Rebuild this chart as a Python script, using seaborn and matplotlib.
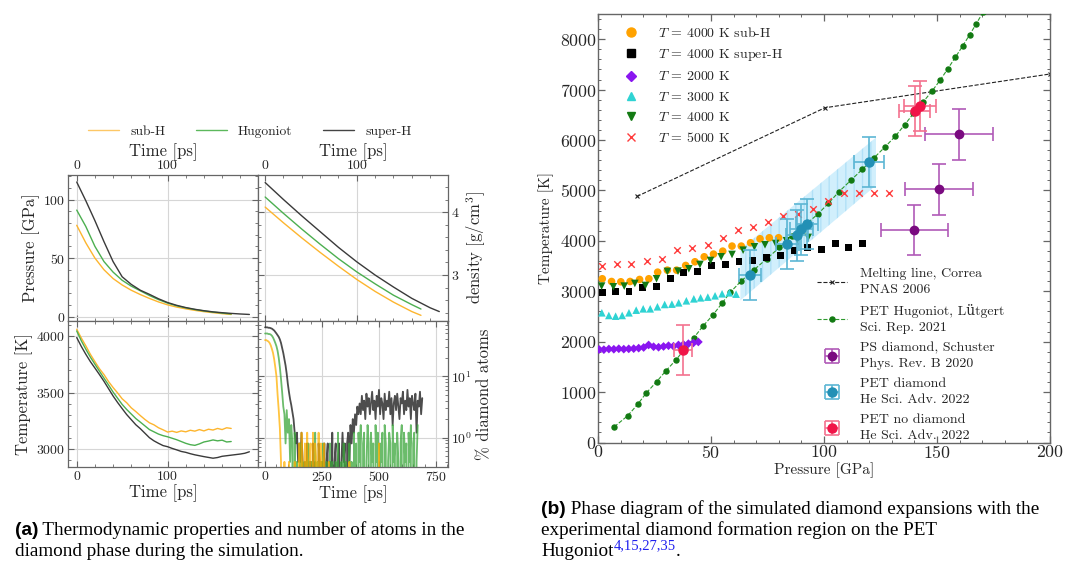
import numpy as np
import seaborn as sns
import matplotlib.pyplot as plt
from matplotlib.lines import Line2D
from matplotlib.ticker import MultipleLocator, AutoMinorLocator, LogLocator, NullFormatter

# ---------------- panel (a): simulation traces ----------------
# pressure [GPa] vs time [ps]
press_t_long = [0, 10, 20, 30, 40, 50, 60, 70, 80, 90, 100, 110, 120, 130, 140, 150, 160, 170, 180, 190]
press_t_short = [0, 10, 20, 30, 40, 50, 60, 70, 80, 90, 100, 110, 120, 130, 140, 150, 160, 170]
press_super = [115, 99, 82, 64, 47, 34, 27.5, 22.5, 19, 15.2, 12, 9.6, 7.7, 6.2, 5.0, 4.0, 3.3, 2.7, 2.2, 1.8]
press_hug = [91, 77, 60, 47, 38, 31, 26, 22, 18, 14.5, 11.5, 9.2, 7.4, 6.0, 4.8, 3.8, 3.0, 2.2]
press_sub = [78, 63, 50, 40, 32.5, 27, 22.5, 18.8, 15.5, 12.5, 10, 8.1, 6.6, 5.3, 4.2, 3.3, 2.5, 1.8]

# density [g/cm3] vs time [ps]
dens_t_long = [0, 20, 40, 60, 80, 100, 120, 140, 160, 180, 190]
dens_t_short = [0, 20, 40, 60, 80, 100, 120, 140, 160, 170]
dens_super = [4.47, 4.20, 3.94, 3.69, 3.44, 3.21, 3.00, 2.81, 2.63, 2.48, 2.42]
dens_hug = [4.24, 3.98, 3.73, 3.49, 3.26, 3.05, 2.86, 2.68, 2.53, 2.46]
dens_sub = [4.08, 3.83, 3.59, 3.36, 3.14, 2.93, 2.74, 2.57, 2.42, 2.36]

# temperature [K], sampled every 5 ps
temp_step = 5
temp_sub = [4062, 3985, 3915, 3840, 3775, 3712, 3660, 3598, 3545, 3497, 3445, 3410, 3365, 3332,
            3296, 3262, 3232, 3214, 3188, 3170, 3150, 3158, 3147, 3160, 3152, 3166, 3158, 3172,
            3160, 3175, 3168, 3182, 3172, 3188, 3182]
temp_hug = [4047, 3960, 3885, 3815, 3752, 3690, 3628, 3568, 3505, 3450, 3395, 3350, 3310, 3270,
            3238, 3205, 3172, 3152, 3132, 3118, 3108, 3095, 3082, 3066, 3050, 3038, 3032, 3045,
            3062, 3070, 3080, 3072, 3078, 3062, 3066]
temp_super = [3988, 3910, 3840, 3775, 3718, 3660, 3600, 3535, 3470, 3412, 3358, 3305, 3260, 3215,
              3180, 3140, 3100, 3072, 3050, 3030, 3020, 3005, 2992, 2978, 2970, 2958, 2948, 2940,
              2932, 2925, 2918, 2924, 2935, 2940, 2945, 2950, 2955, 2962, 2975]

# percentage of diamond atoms, sampled every 5 ps
frac_step = 5
frac_super = [63, 63, 63, 62, 62, 61, 60, 58, 56,
              53, 50, 47, 44, 40, 35, 29, 24, 19, 15, 11, 7.5, 5.5, 4.2, 3.4, 2.6, 2.0,
              1.2, 0.8, 1.2, 0.4, 0.8, 0.4, 1.2, 0.4, 0,
              0.4, 0, 0.8, 0, 0.4, 0.4, 0, 0.8, 0, 0.4, 0, 0, 0.8, 0.4, 0, 0.4, 0, 0.8, 0,
              0.4, 0.8, 0, 0.4, 0, 1.2, 0, 0.4, 0.8, 0, 0.4, 0.8, 0, 0.4, 1.2, 0.4, 0.8, 0,
              0.8, 1.2, 0.4, 1.6, 0.8, 2.0, 1.2, 2.4, 1.6, 3.2, 2.4,
              3.6, 2.4, 4.8, 2.8, 4.0, 2.0, 5.2, 3.2, 4.4, 2.4, 3.6, 5.6, 2.8, 4.0, 2.0, 4.8,
              3.2, 6.0, 2.4, 4.4, 3.6, 2.0, 5.2, 2.8, 4.0, 3.2, 5.6, 2.4, 4.4, 1.6, 3.6, 4.8,
              2.8, 5.2, 3.2, 2.0, 4.4, 3.6, 5.6, 2.4, 4.0, 2.8, 6.0, 3.2, 4.4, 2.0, 4.8, 3.6,
              2.8, 5.2, 1.2, 4.0, 3.2, 5.6, 2.4, 4.4]
frac_hug = [50, 50, 50, 49, 49, 48, 46, 43, 39, 35, 31, 26, 20, 14, 9, 5.5, 3.2,
            2.4, 0.8, 2.8, 1.2, 2.0, 0.4, 1.6, 0.8, 0, 1.2,
            0, 0.4, 0, 0, 0.8, 0, 0.4, 0, 0, 0.4, 0, 0.8, 0, 0, 0.4, 0, 0, 1.2, 0, 0.4,
            0, 0, 0.4, 0, 0.8, 0, 0, 0.4, 0, 0, 0.8, 0, 0.4, 0, 0, 0.4, 0, 1.2, 0, 0,
            0.4, 0, 0.8, 0, 0.4, 0, 0, 0.8, 0, 0.4, 0, 1.2, 0,
            0.8, 0, 1.2, 0.4, 1.6, 0, 0.8, 1.2, 0, 0.4, 1.6, 0.8, 0, 1.2, 0.4, 0.8, 0, 1.6,
            0.4, 1.2, 0, 0.8, 0.4, 1.2, 0, 1.6, 0.8, 0, 0.4, 1.2, 0.8, 0, 1.6, 0.4, 0.8, 0,
            1.2, 0.4, 0, 0.8, 1.6, 0, 1.2, 0.4, 0.8, 0, 1.2, 0.4, 1.6, 0, 0.8, 1.2, 0, 0.4, 1.6]
frac_sub = [39, 39, 38, 37, 35, 32, 28, 24, 19, 14, 10, 5.0, 2.8, 1.4, 0.4, 0,
            0, 0.4, 0, 0, 0, 0.4, 0, 0, 0, 0, 0.4, 0, 0, 0,
            0.8, 0, 1.2, 0.4, 0, 0.8, 0, 1.2, 0, 0.4, 0.8, 0, 1.2, 0, 0.8, 0.4, 0, 1.2, 0,
            0.8, 0, 0.4, 0.8, 0,
            0, 0, 0.4, 0, 0, 0, 0, 0, 0, 0, 0, 0, 0, 0, 0, 0, 0, 0, 0, 0, 0.4, 0, 0, 0, 0,
            0, 0, 0, 0, 0, 0, 0, 0, 0, 0, 0, 0, 0, 0, 0, 0, 0, 0, 0, 0, 0, 0.8, 0, 0, 0]

# ---------------- panel (b): phase diagram ----------------
sub_p = [1.9, 6.0, 10.1, 14.2, 18.4, 22.5, 26.4, 30.7, 34.8, 38.8, 42.9, 47.0, 51.1, 55.2,
         59.3, 63.4, 67.5, 71.7, 75.8, 79.9]
sub_t = [3248, 3194, 3188, 3194, 3234, 3248, 3379, 3419, 3419, 3512, 3585, 3684, 3737, 3796,
         3896, 3896, 3962, 4041, 4061, 4061]
super_p = [1.9, 7.8, 13.7, 19.8, 25.9, 32.0, 38.0, 44.2, 50.2, 56.3, 62.4, 68.4, 74.6, 80.6,
           86.7, 92.8, 98.8, 105.0, 111.0, 117.0]
super_t = [2970, 3002, 3002, 3069, 3089, 3260, 3366, 3399, 3506, 3525, 3591, 3617, 3677, 3704,
           3815, 3862, 3823, 3948, 3875, 3955]
t2000_p = [0.5, 2.6, 4.8, 7.0, 9.2, 11.4, 13.6, 15.8, 18.0, 20.2, 22.4, 24.6, 26.8, 29.0,
           31.2, 33.4, 35.6, 37.8, 40.0, 42.2, 44.4]
t2000_t = [1845, 1842, 1855, 1850, 1860, 1852, 1858, 1862, 1872, 1885, 1935, 1900, 1890, 1905,
           1920, 1910, 1935, 1945, 1960, 1975, 1995]
t3000_p = [1.7, 4.8, 7.8, 10.7, 13.7, 16.9, 20.0, 23.1, 26.3, 29.5, 32.7, 35.7, 39.1, 42.4,
           45.4, 48.6, 51.8, 54.9, 58.1, 61.1]
t3000_t = [2573, 2520, 2506, 2520, 2573, 2625, 2652, 2652, 2692, 2738, 2745, 2771, 2811, 2850,
           2870, 2884, 2910, 2950, 2970, 2943]
t4000_p = [1.6, 6.8, 11.6, 16.3, 21.0, 25.9, 30.7, 35.4, 40.2, 45.1, 49.8, 54.5, 59.3, 64.2,
           69.2, 73.9, 78.6, 83.4, 88.2, 93.0]
t4000_t = [3102, 3089, 3102, 3155, 3115, 3248, 3393, 3399, 3446, 3532, 3611, 3684, 3730, 3815,
           3882, 3922, 3948, 4002, 4028, 4068]
t5000_p = [1.9, 8.2, 14.8, 21.7, 28.3, 35.1, 41.7, 48.6, 55.2, 61.8, 68.6, 75.2, 81.9, 88.5,
           95.3, 101.9, 108.7, 115.4, 122.0, 128.6]
t5000_t = [3498, 3532, 3545, 3598, 3631, 3809, 3855, 3922, 4061, 4213, 4272, 4371, 4490, 4537,
           4623, 4788, 4954, 4940, 4954, 4954]

melt_p = [17.2, 100.4, 200]
melt_t = [4880, 6640, 7310]

hug_p = [7.2, 13.1, 17.5, 21.3, 25.9, 29.9, 34.4, 38.4, 42.4, 46.4, 50.8, 54.8, 58.6, 63.3,
         69.0, 74.7, 80.3, 86.0, 91.7, 97.4, 101.9, 106.6, 111.8, 116.9, 122.0, 126.9, 131.6,
         135.7, 139.6, 143.8, 147.7, 151.4, 154.8, 158.1, 161.3, 164.4, 167.4, 170.3]
hug_t = [311, 529, 754, 979, 1204, 1415, 1633, 1855, 2077, 2307, 2526, 2758, 2983, 3201,
         3424, 3646, 3869, 4092, 4314, 4537, 4742, 4974, 5198, 5416, 5641, 5859, 6077,
         6303, 6527, 6752, 6964, 7188, 7414, 7640, 7862, 8085, 8308, 8530]

ps_p = [140.0, 151.0, 159.9]
ps_t = [4213, 5020, 6111]
ps_perr = [15, 15, 15]
ps_terr = [500, 500, 500]

petd_p = [67.4, 83.8, 88.0, 90.0, 92.4, 119.8]
petd_t = [3320, 3942, 4107, 4226, 4340, 5561]
petd_perr = [4.8, 5, 5, 5, 5, 6.6]
petd_terr = [500, 500, 500, 500, 500, 500]
band_p = [63, 123]
band_lo = [2820, 5100]
band_hi = [3830, 6050]

petn_p = [37.5, 140.1, 142.6]
petn_t = [1832, 6574, 6673]
petn_perr = [3.9, 7, 7]
petn_terr = [500, 500, 500]

# ---------------- style ----------------
sns.set_theme(style='ticks')
plt.rcParams['font.family'] = ['cmr10', 'DejaVu Serif']
plt.rcParams['mathtext.fontset'] = 'cm'
plt.rcParams['axes.formatter.use_mathtext'] = True
plt.rcParams['axes.unicode_minus'] = False

W, H = 1067, 562
fig = plt.figure(figsize=(W / 100, H / 100), dpi=100)
fig.patch.set_facecolor('white')


def px_axes(l, t, r, b):
    return fig.add_axes([l / W, 1 - b / H, (r - l) / W, (b - t) / H])


sub_c, hug_c, sup_c = '#fdb52e', '#4caf50', '#3a3a3a'
spine_c = '#666666'


def style_small(ax):
    for s in ax.spines.values():
        s.set_color(spine_c)
        s.set_linewidth(0.9)
    ax.tick_params(which='both', direction='in', top=True, right=True, color=spine_c,
                   labelsize=10, pad=2)
    ax.tick_params(which='major', length=4, width=0.8)
    ax.tick_params(which='minor', length=2, width=0.6)
    ax.grid(True, which='major', color='#d6d6d6', lw=0.8)
    ax.set_axisbelow(True)


ax_p = px_axes(68, 175, 258, 321)
ax_d = px_axes(258, 175, 448, 321)
ax_T = px_axes(68, 321, 258, 467)
ax_n = px_axes(258, 321, 448, 467)

# pressure
sns.lineplot(x=press_t_short, y=press_sub, ax=ax_p, color=sub_c, lw=1, estimator=None, sort=False)
sns.lineplot(x=press_t_short, y=press_hug, ax=ax_p, color=hug_c, lw=1, estimator=None, sort=False)
sns.lineplot(x=press_t_long, y=press_super, ax=ax_p, color=sup_c, lw=1, estimator=None, sort=False)
ax_p.set_xlim(-9.6, 199.5)
ax_p.set_ylim(-3.8, 121)
ax_p.xaxis.set_major_locator(MultipleLocator(100))
ax_p.yaxis.set_major_locator(MultipleLocator(50))
ax_p.xaxis.set_minor_locator(AutoMinorLocator(5))
ax_p.yaxis.set_minor_locator(AutoMinorLocator(5))
style_small(ax_p)
ax_p.tick_params(labelbottom=False, labeltop=True)
ax_p.xaxis.set_label_position('top')
ax_p.set_xlabel('Time [ps]', fontsize=12, labelpad=2.5)
ax_p.set_ylabel('Pressure [GPa]', fontsize=12, labelpad=2)

# density
sns.lineplot(x=dens_t_short, y=dens_sub, ax=ax_d, color=sub_c, lw=1, estimator=None, sort=False)
sns.lineplot(x=dens_t_short, y=dens_hug, ax=ax_d, color=hug_c, lw=1, estimator=None, sort=False)
sns.lineplot(x=dens_t_long, y=dens_super, ax=ax_d, color=sup_c, lw=1, estimator=None, sort=False)
ax_d.set_xlim(-7.8, 199.5)
ax_d.set_ylim(2.27, 4.59)
ax_d.xaxis.set_major_locator(MultipleLocator(100))
ax_d.yaxis.set_major_locator(MultipleLocator(1))
ax_d.xaxis.set_minor_locator(AutoMinorLocator(5))
ax_d.yaxis.set_minor_locator(AutoMinorLocator(5))
style_small(ax_d)
ax_d.tick_params(labelbottom=False, labeltop=True, labelleft=False, labelright=True)
ax_d.xaxis.set_label_position('top')
ax_d.yaxis.set_label_position('right')
ax_d.set_xlabel('Time [ps]', fontsize=12, labelpad=2.5)
ax_d.set_ylabel('density [g/cm$^3$]', fontsize=12, labelpad=4)

# temperature
sns.lineplot(x=np.arange(len(temp_sub)) * temp_step, y=temp_sub, ax=ax_T, color=sub_c, lw=1,
             estimator=None, sort=False)
sns.lineplot(x=np.arange(len(temp_hug)) * temp_step, y=temp_hug, ax=ax_T, color=hug_c, lw=1,
             estimator=None, sort=False)
sns.lineplot(x=np.arange(len(temp_super)) * temp_step, y=temp_super, ax=ax_T, color=sup_c, lw=1,
             estimator=None, sort=False)
ax_T.set_xlim(-9.6, 199.5)
ax_T.set_ylim(2840, 4135)
ax_T.xaxis.set_major_locator(MultipleLocator(100))
ax_T.yaxis.set_major_locator(MultipleLocator(500))
ax_T.xaxis.set_minor_locator(AutoMinorLocator(5))
ax_T.yaxis.set_minor_locator(AutoMinorLocator(5))
style_small(ax_T)
ax_T.set_xlabel('Time [ps]', fontsize=12, labelpad=1)
ax_T.set_ylabel('Temperature [K]', fontsize=12, labelpad=2)

# diamond fraction
sns.lineplot(x=np.arange(len(frac_super)) * frac_step, y=frac_super, ax=ax_n, color='#2e2e2e',
             lw=1.3, alpha=0.85, estimator=None, sort=False)
sns.lineplot(x=np.arange(len(frac_hug)) * frac_step, y=frac_hug, ax=ax_n, color='#3aa63a',
             lw=1.3, alpha=0.75, estimator=None, sort=False)
sns.lineplot(x=np.arange(len(frac_sub)) * frac_step, y=frac_sub, ax=ax_n, color='#ffb000',
             lw=1.3, alpha=0.75, estimator=None, sort=False)
ax_n.set_yscale('log')
ax_n.set_xlim(-31, 803)
ax_n.set_ylim(0.33, 80)
ax_n.xaxis.set_major_locator(MultipleLocator(250))
ax_n.xaxis.set_minor_locator(AutoMinorLocator(5))
ax_n.yaxis.set_major_locator(LogLocator(base=10, numticks=5))
ax_n.yaxis.set_minor_locator(LogLocator(base=10, subs=np.arange(2, 10) * 1.0, numticks=20))
ax_n.yaxis.set_minor_formatter(NullFormatter())
style_small(ax_n)
ax_n.tick_params(labelleft=False, labelright=True)
ax_n.yaxis.set_label_position('right')
ax_n.set_xlabel('Time [ps]', fontsize=12, labelpad=1)
ax_n.set_ylabel('% diamond atoms', fontsize=12, labelpad=4)

top_handles = [Line2D([], [], color='#fdc766', lw=1),
               Line2D([], [], color='#5cb85c', lw=1),
               Line2D([], [], color='#444444', lw=1)]
fig.legend(top_handles, ['sub-H', 'Hugoniot', 'super-H'], loc='center',
           bbox_to_anchor=(250 / W, 1 - 131.5 / H), ncol=3, frameon=False, fontsize=9.7,
           handlelength=2.3, columnspacing=2.3, handletextpad=0.8)

# ---------------- phase diagram ----------------
ax_r = px_axes(598, 14, 1050, 442.5)
ax_r.fill_between(band_p, band_lo, band_hi, facecolor='#c6ebfc', edgecolor='#a9ddf6',
                  lw=0, alpha=0.8, hatch='||', zorder=1)
ax_r.plot(melt_p, melt_t, color='#222222', ls='--', lw=0.8, marker='x', ms=3, mew=0.8, zorder=2)
ax_r.plot(hug_p, hug_t, color='#2e9a2e', ls='--', lw=0.8, marker='o', ms=3.6,
          mfc='#127a12', mec='#127a12', zorder=3)

sns.scatterplot(x=sub_p, y=sub_t, ax=ax_r, marker='o', s=30, color='#ffa200', edgecolor='none', zorder=4)
sns.scatterplot(x=super_p, y=super_t, ax=ax_r, marker='s', s=24, color='black', edgecolor='none', zorder=4)
sns.scatterplot(x=t2000_p, y=t2000_t, ax=ax_r, marker='D', s=20, color='#8a16f0', edgecolor='none', zorder=4)
sns.scatterplot(x=t3000_p, y=t3000_t, ax=ax_r, marker='^', s=30, color='#2fd3d3', edgecolor='none', zorder=4)
sns.scatterplot(x=t4000_p, y=t4000_t, ax=ax_r, marker='v', s=30, color='#137a13', edgecolor='none', zorder=4)
sns.scatterplot(x=t5000_p, y=t5000_t, ax=ax_r, marker='x', s=22, color='#ff3b3b', linewidth=1, zorder=4)

eb_ps = ax_r.errorbar(ps_p, ps_t, xerr=ps_perr, yerr=ps_terr, fmt='o', ms=6, color='#7a0a80',
                      ecolor='#b05ab8', elinewidth=1.2, capsize=5, capthick=1.2, zorder=5)
eb_pd = ax_r.errorbar(petd_p, petd_t, xerr=petd_perr, yerr=petd_terr, fmt='o', ms=6.5,
                      color='#2390b5', ecolor='#5cb6d4', elinewidth=1.2, capsize=5, capthick=1.2, zorder=5)
eb_pn = ax_r.errorbar(petn_p, petn_t, xerr=petn_perr, yerr=petn_terr, fmt='o', ms=6.5,
                      color='#f01448', ecolor='#f3728f', elinewidth=1.2, capsize=5, capthick=1.2, zorder=5)

ax_r.set_xlim(0, 200)
ax_r.set_ylim(0, 8500)
ax_r.xaxis.set_major_locator(MultipleLocator(50))
ax_r.xaxis.set_minor_locator(MultipleLocator(10))
ax_r.yaxis.set_major_locator(MultipleLocator(1000))
ax_r.yaxis.set_minor_locator(MultipleLocator(200))
for s in ax_r.spines.values():
    s.set_color(spine_c)
    s.set_linewidth(1)
ax_r.tick_params(which='both', direction='in', top=True, right=True, color=spine_c,
                 labelsize=12.8, pad=1)
ax_r.tick_params(which='major', length=5, width=0.9)
ax_r.tick_params(which='minor', length=2.5, width=0.7)
ax_r.set_xlabel('Pressure [GPa]', fontsize=11, labelpad=1)
ax_r.set_ylabel('Temperature [K]', fontsize=11, labelpad=4)

leg1_handles = [
    Line2D([], [], ls='none', marker='o', ms=6.5, color='#ffa200'),
    Line2D([], [], ls='none', marker='s', ms=5.5, color='black'),
    Line2D([], [], ls='none', marker='D', ms=5.5, color='#8a16f0'),
    Line2D([], [], ls='none', marker='^', ms=6, color='#2fd3d3'),
    Line2D([], [], ls='none', marker='v', ms=6, color='#137a13'),
    Line2D([], [], ls='none', marker='x', ms=6, mew=1, color='#ff3b3b'),
]
leg1_labels = [r'$T$ = 4000 K sub-H', r'$T$ = 4000 K super-H', r'$T$ = 2000 K',
               r'$T$ = 3000 K', r'$T$ = 4000 K', r'$T$ = 5000 K']
leg1 = ax_r.legend(leg1_handles, leg1_labels, loc='upper left', bbox_to_anchor=(0.025, 0.985),
                   borderaxespad=0, borderpad=0.4, frameon=False, fontsize=10,
                   handlelength=2.3, handletextpad=0.8, labelspacing=0.52)

leg2_handles = [
    Line2D([], [], color='#222222', ls='--', lw=0.8, marker='x', ms=3, mew=0.8),
    Line2D([], [], color='#2e9a2e', ls='--', lw=0.8, marker='o', ms=3.6, mfc='#127a12', mec='#127a12'),
    eb_ps, eb_pd, eb_pn,
]
leg2_labels = ['Melting line, Correa\nPNAS 2006',
               'PET Hugoniot, Lütgert\nSci. Rep. 2021',
               'PS diamond, Schuster\nPhys. Rev. B 2020',
               'PET diamond\nHe Sci. Adv. 2022',
               'PET no diamond\nHe Sci. Adv. 2022']
leg2 = ax_r.legend(leg2_handles, leg2_labels, loc='lower left', bbox_to_anchor=(0.472, -0.012),
                   borderaxespad=0, borderpad=0.4, frameon=False, fontsize=10, numpoints=1,
                   handlelength=2.2, handletextpad=0.9, labelspacing=0.55)
for t in leg2.get_texts():
    t.set_linespacing(1.45)
ax_r.add_artist(leg1)

# ---------------- captions ----------------
cap_font = dict(family='Liberation Serif', fontsize=13.8, color='black')
bold_font = dict(family='Liberation Sans', fontsize=13.8, weight='bold', color='black')
renderer = fig.canvas.get_renderer()


def text_run(x, y, parts):
    for s, dy, kw in parts:
        t = fig.text(x / W, 1 - (y - dy) / H, s, va='baseline', ha='left', **kw)
        x = t.get_window_extent(renderer).x1


text_run(15, 535, [('(a)', 0, bold_font),
                   (' Thermodynamic properties and number of atoms in the', 0, cap_font)])
text_run(15, 556, [('diamond phase during the simulation.', 0, cap_font)])
text_run(541, 514, [('(b)', 0, bold_font),
                    (' Phase diagram of the simulated diamond expansions with the', 0, cap_font)])
text_run(541, 535, [('experimental diamond formation region on the PET', 0, cap_font)])
text_run(541, 556, [('Hugoniot', 0, cap_font),
                    ('4,15,27,35', 7, dict(family='Liberation Serif', fontsize=10.5, color='#1f1fee')),
                    ('.', 0, cap_font)])

fig.savefig('out.png', dpi=100)
